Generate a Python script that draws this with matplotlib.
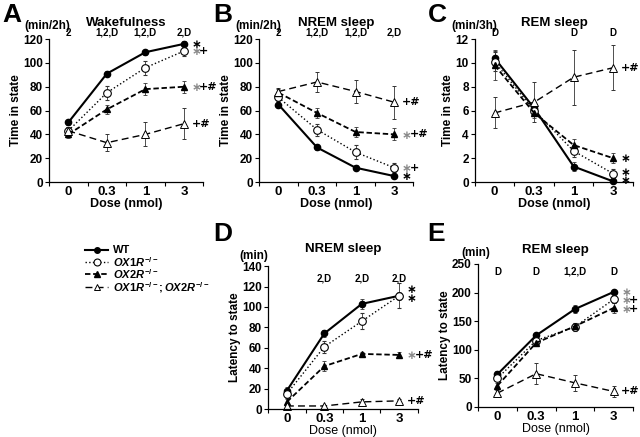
import matplotlib
matplotlib.use("Agg")
import matplotlib.pyplot as plt
from matplotlib.lines import Line2D
import numpy as np

plt.rcParams['font.family'] = ['Liberation Sans', 'DejaVu Sans']
plt.rcParams['font.weight'] = 'bold'
plt.rcParams['mathtext.fontset'] = 'custom'
plt.rcParams['mathtext.it'] = 'Liberation Sans:bold:italic'
plt.rcParams['mathtext.rm'] = 'Liberation Sans:bold'
plt.rcParams['mathtext.bf'] = 'Liberation Sans:bold'

doses = ["0", "0.3", "1", "3"]
series_names = ["WT", r"$\it{OX1R}^{-/-}$", r"$\it{OX2R}^{-/-}$",
                r"$\it{OX1R}^{-/-}\mathrm{;}\it{OX2R}^{-/-}$"]

# Panel A: Wakefulness
a_wt = [50, 91, 109, 116];   a_wt_e = [2, 2, 2, 2]
a_o1 = [43, 75, 96, 110];    a_o1_e = [3, 6, 6, 4]
a_o2 = [40, 61, 78, 80];     a_o2_e = [3, 4, 5, 5]
a_dk = [43, 33, 40, 49];     a_dk_e = [3, 7, 10, 13]
# Panel B: NREM sleep
b_wt = [65, 29, 12, 5];      b_wt_e = [2, 2, 2, 1]
b_o1 = [71, 44, 25, 12];     b_o1_e = [3, 5, 6, 4]
b_o2 = [75, 58, 42, 40];     b_o2_e = [3, 4, 4, 5]
b_dk = [76, 84, 76, 67];     b_dk_e = [3, 8, 10, 14]
# Panel C: REM sleep
c_wt = [10.4, 6.2, 1.3, 0.05];  c_wt_e = [0.7, 0.4, 0.4, 0.1]
c_o1 = [10.1, 6.0, 2.6, 0.7];   c_o1_e = [0.8, 0.4, 0.5, 0.4]
c_o2 = [9.8, 5.8, 3.1, 2.0];    c_o2_e = [1.2, 0.4, 0.5, 0.4]
c_dk = [5.8, 6.7, 8.8, 9.6];    c_dk_e = [1.3, 1.7, 2.3, 1.9]
# Panel D: NREM latency
d_wt = [18, 74, 103, 111];   d_wt_e = [4, 3, 5, 4]
d_o1 = [15, 61, 86, 111];    d_o1_e = [4, 6, 8, 12]
d_o2 = [7, 42, 54, 53];      d_o2_e = [3, 5, 2, 3]
d_dk = [3, 3, 7, 8];         d_dk_e = [1, 1, 3, 2]
# Panel E: REM latency
e_wt = [57, 125, 171, 201];  e_wt_e = [5, 4, 7, 4]
e_o1 = [50, 116, 140, 188];  e_o1_e = [5, 5, 7, 6]
e_o2 = [37, 112, 141, 173];  e_o2_e = [5, 5, 6, 8]
e_dk = [24, 58, 42, 27];     e_dk_e = [5, 18, 14, 9]

styles = [
    dict(color='black', ls='-', lw=1.5, marker='o', ms=4.5, mfc='black', mec='black'),
    dict(color='black', ls=':', lw=1.0, marker='o', ms=5.5, mfc='white', mec='black', mew=0.8),
    dict(color='black', ls=(0, (3, 1.5)), lw=1.3, marker='^', ms=4.5, mfc='black', mec='black'),
    dict(color='black', ls=(0, (5, 3)), lw=1.0, marker='^', ms=5.5, mfc='white', mec='black', mew=0.7),
]

fig = plt.figure(figsize=(6.4, 4.37), dpi=100)
G = '#8a8a8a'
K = 'black'
MARKFONT = ['DejaVu Sans']


def panel(rect, data, errs, ymax, ystep, ylabel, title, unit, toplabels, toplab_y,
          title_y, unit_y, unit_x, marks, letter, letter_xy, xlabel_bold=True):
    ax = fig.add_axes(rect)
    x = np.arange(len(doses))
    for d, e, st in zip(data, errs, styles):
        ax.errorbar(x, d, yerr=e, capsize=1.5, elinewidth=0.6, ecolor='#333333',
                    capthick=0.6, **st, clip_on=False)
    ax.set_xlim(-0.5, 3.5)
    ax.set_ylim(0, ymax)
    ax.set_yticks(np.arange(0, ymax + ystep / 2, ystep))
    ax.set_xticks(x)
    ax.set_xticklabels(doses, fontsize=9.5, fontweight='bold')
    ax.set_xticks([-0.5, 0.5, 1.5, 2.5, 3.5], minor=True)
    ax.tick_params(axis='x', which='major', length=0, pad=3)
    ax.tick_params(axis='x', which='minor', length=3, width=0.8, direction='out')
    ax.tick_params(axis='y', length=3, width=0.8, labelsize=8.5, pad=1.5)
    for lab in ax.get_yticklabels():
        lab.set_fontweight('bold')
    for s in ['top', 'right']:
        ax.spines[s].set_visible(False)
    for s in ['left', 'bottom']:
        ax.spines[s].set_linewidth(0.9)
    ax.set_ylabel(ylabel, fontsize=8.5, fontweight='bold', labelpad=1)
    ax.set_xlabel("Dose (nmol)", fontsize=9, fontweight='bold' if xlabel_bold else 'normal',
                  labelpad=0)
    ax.text(0.5, title_y, title, transform=ax.transAxes, ha='center', va='center',
            fontsize=9.5, fontweight='bold')
    ax.text(unit_x, unit_y, unit, transform=ax.transAxes, ha='right', va='center',
            fontsize=8.5, fontweight='bold')
    for xi, t in enumerate(toplabels):
        ax.text(xi, ymax * toplab_y, t, ha='center', va='center', fontsize=7,
                fontweight='bold', clip_on=False)
    for (yv, star_col, rest) in marks:
        off = 5.5
        if star_col is not None:
            ax.annotate("\u2217", xy=(3, yv), xytext=(off, -0.5), textcoords='offset points',
                        ha='left', va='center', fontsize=8.5, fontweight='bold',
                        color=star_col, family=MARKFONT, annotation_clip=False)
            off += 5.5
        if rest:
            ax.annotate(rest, xy=(3, yv), xytext=(off, 0), textcoords='offset points',
                        ha='left', va='center', fontsize=8, fontweight='bold',
                        color='black', family=MARKFONT, annotation_clip=False)
    fig.text(letter_xy[0], letter_xy[1], letter, fontsize=19, fontweight='bold',
             ha='left', va='center')
    return ax


panel([0.0766, 0.5835, 0.241, 0.327], [a_wt, a_o1, a_o2, a_dk], [a_wt_e, a_o1_e, a_o2_e, a_dk_e],
      120, 20, "Time in state", "Wakefulness", "(min/2h)", ["2", "1,2,D", "1,2,D", "2,D"], 1.045,
      1.11, 1.095, 0.14,
      [(116, K, ""), (110, G, "+"), (80, G, "+#"), (49, None, "+#")],
      "A", (0.003, 0.965))
panel([0.405, 0.5835, 0.241, 0.327], [b_wt, b_o1, b_o2, b_dk], [b_wt_e, b_o1_e, b_o2_e, b_dk_e],
      120, 20, "Time in state", "NREM sleep", "(min/2h)", ["2", "1,2,D", "1,2,D", "2,D"], 1.045,
      1.11, 1.095, 0.14,
      [(5, K, ""), (12, G, "+"), (40, G, "+#"), (67, None, "+#")],
      "B", (0.333, 0.965))
panel([0.742, 0.5835, 0.247, 0.327], [c_wt, c_o1, c_o2, c_dk], [c_wt_e, c_o1_e, c_o2_e, c_dk_e],
      12, 2, "Time in state", "REM sleep", "(min/3h)", ["D", "", "D", "D"], 1.045,
      1.11, 1.095, 0.14,
      [(0.2, K, ""), (0.85, K, ""), (2.0, K, ""), (9.6, None, "+#")],
      "C", (0.668, 0.965))
panel([0.419, 0.064, 0.234, 0.327], [d_wt, d_o1, d_o2, d_dk], [d_wt_e, d_o1_e, d_o2_e, d_dk_e],
      140, 20, "Latency to state", "NREM sleep", "(min)", ["", "2,D", "2,D", "2,D"], 0.91,
      1.12, 1.07, 0.0,
      [(118, K, ""), (109, K, ""), (53, G, "+#"), (8, None, "+#")],
      "D", (0.333, 0.465), xlabel_bold=False)
panel([0.747, 0.069, 0.242, 0.327], [e_wt, e_o1, e_o2, e_dk], [e_wt_e, e_o1_e, e_o2_e, e_dk_e],
      250, 50, "Latency to state", "REM sleep", "(min)", ["D", "D", "1,2,D", "D"], 0.944,
      1.10, 1.077, 0.08,
      [(202, G, ""), (187, G, "+"), (172, G, "+"), (27, None, "+#")],
      "E", (0.668, 0.465), xlabel_bold=False)

# Legend (drawn manually for compact spacing)
leg_rows = [0.428, 0.400, 0.372, 0.343]
for st, name, yy in zip(styles, series_names, leg_rows):
    st2 = dict(st)
    marker = st2.pop('marker')
    ms = st2.pop('ms')
    mfc = st2.pop('mfc'); mec = st2.pop('mec'); mew = st2.pop('mew', 1.0)
    fig.add_artist(Line2D([0.133, 0.169], [yy, yy], transform=fig.transFigure, **st2))
    fig.add_artist(Line2D([0.151], [yy], transform=fig.transFigure, marker=marker, ms=ms - 0.5,
                          mfc=mfc, mec=mec, mew=mew, ls='none'))
    fig.text(0.176, yy, name, fontsize=8, fontweight='bold', ha='left', va='center')

fig.savefig("out.png", dpi=100)
